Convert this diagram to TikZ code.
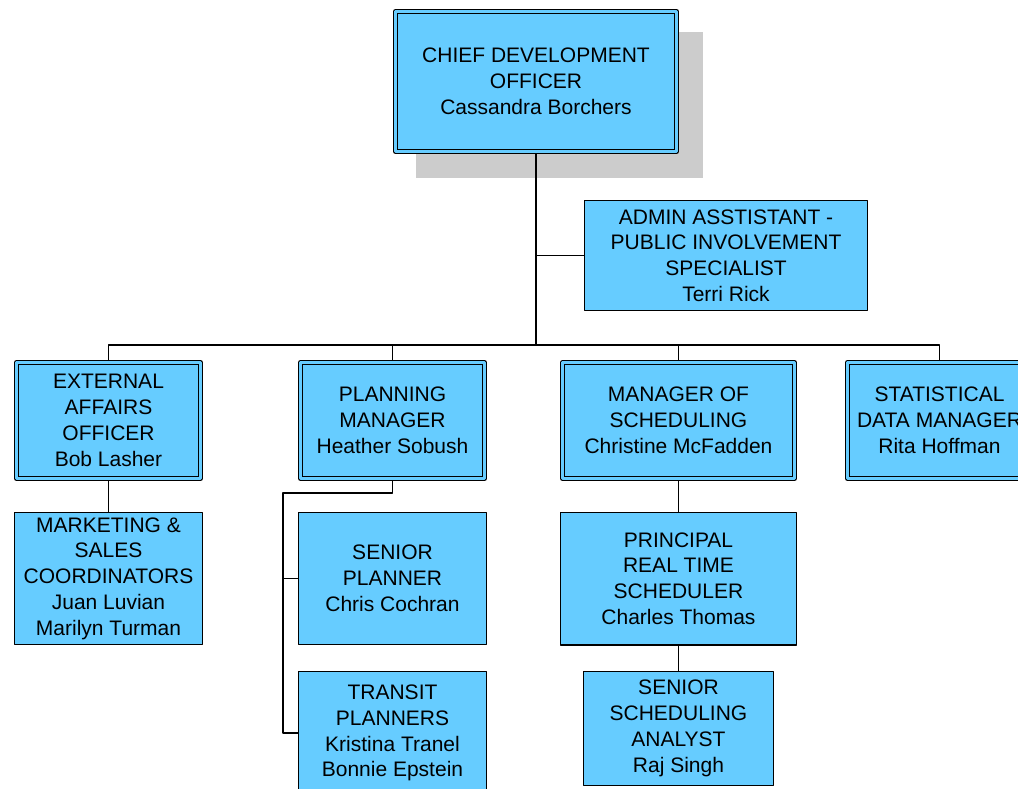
\documentclass[tikz,border=0pt]{standalone}
\usepackage{fontspec}
\setmainfont{Liberation Sans}
\usetikzlibrary{backgrounds}
\definecolor{boxblue}{HTML}{66CCFF}
\definecolor{shadowgray}{HTML}{CCCCCC}
\tikzset{
	unit/.style={rectangle, fill=boxblue, draw=black, line width=1.4pt, outer sep=0.7pt, inner sep=0pt, align=center, font=\fontsize{21}{25.8}\selectfont},
	headunit/.style={unit, line width=1.2pt, double=boxblue, double distance=2.4pt, outer sep=2.4pt},
	link/.style={line width=1.2pt}
}
\begin{document}
\begin{tikzpicture}[x=1pt, y=-1pt, line join=round]
			\useasboundingbox (0,0) rectangle (1018,788);
			% top of the chart
			\node[headunit, minimum width=281.2pt, minimum height=140.2pt] (cdo) at (536,81.5) {CHIEF DEVELOPMENT\\OFFICER\\Cassandra Borchers};
			\begin{scope}[on background layer]
				\fill[shadowgray] ([shift={(23,23)}]cdo.north west) rectangle ([shift={(24,24)}]cdo.south east);
			\end{scope}
			\node[unit, minimum width=282.6pt, minimum height=109.6pt] (admin) at (726,255.5) {ADMIN ASSTISTANT -\\PUBLIC INVOLVEMENT\\SPECIALIST\\Terri Rick};
			% managers
			\node[headunit, minimum width=184.2pt, minimum height=116.2pt] (ext) at (108.5,420.5) {EXTERNAL\\AFFAIRS\\OFFICER\\Bob Lasher};
			\node[headunit, minimum width=184.2pt, minimum height=116.2pt] (plan) at (392.5,420.5) {PLANNING\\MANAGER\\Heather Sobush};
			\node[headunit, minimum width=232.2pt, minimum height=116.2pt] (msched) at (678.5,420.5) {MANAGER OF\\SCHEDULING\\Christine McFadden};
			\node[headunit, minimum width=184.2pt, minimum height=116.2pt] (stat) at (939.5,420.5) {STATISTICAL\\DATA MANAGER\\Rita Hoffman};
			% staff
			\node[unit, minimum width=187.6pt, minimum height=131.6pt] (mkt) at (108.5,578.5) {MARKETING \&\\SALES\\COORDINATORS\\Juan Luvian\\Marilyn Turman};
			\node[unit, minimum width=187.6pt, minimum height=131.6pt] (splan) at (392.5,578.5) {SENIOR\\PLANNER\\Chris Cochran};
			\node[unit, minimum width=187.6pt, minimum height=122.6pt] (tplan) at (392.5,733) {TRANSIT\\PLANNERS\\Kristina Tranel\\Bonnie Epstein};
			\node[unit, minimum width=235.6pt, minimum height=132.6pt] (prts) at (678.5,578.5) {PRINCIPAL\\REAL TIME\\SCHEDULER\\Charles Thomas};
			\node[unit, minimum width=189.6pt, minimum height=113.6pt] (ssa) at (678.5,728.5) {SENIOR\\SCHEDULING\\ANALYST\\Raj Singh};
			% connectors
			\draw[link] (cdo.south) -- ++(0,191) coordinate (hub);
			\draw[link] (admin.west) -- (admin.west -| cdo.south);
			\draw[link] (ext.north) -- (ext.north |- hub) -| (stat.north);
			\foreach \n in {plan,msched}
				\draw[link] (\n.north) -- (\n.north |- hub);
			\draw[link] (ext.south) -- (mkt.north);
			\draw[link] (plan.south) -- ++(0,12) -| ([xshift=-15pt]tplan.west) -- (tplan.west);
			\draw[link] (splan.west) -- ++(-15,0);
			\draw[link] (msched.south) -- (prts.north);
			\draw[link] (prts.south) -- (ssa.north);
\end{tikzpicture}
\end{document}
